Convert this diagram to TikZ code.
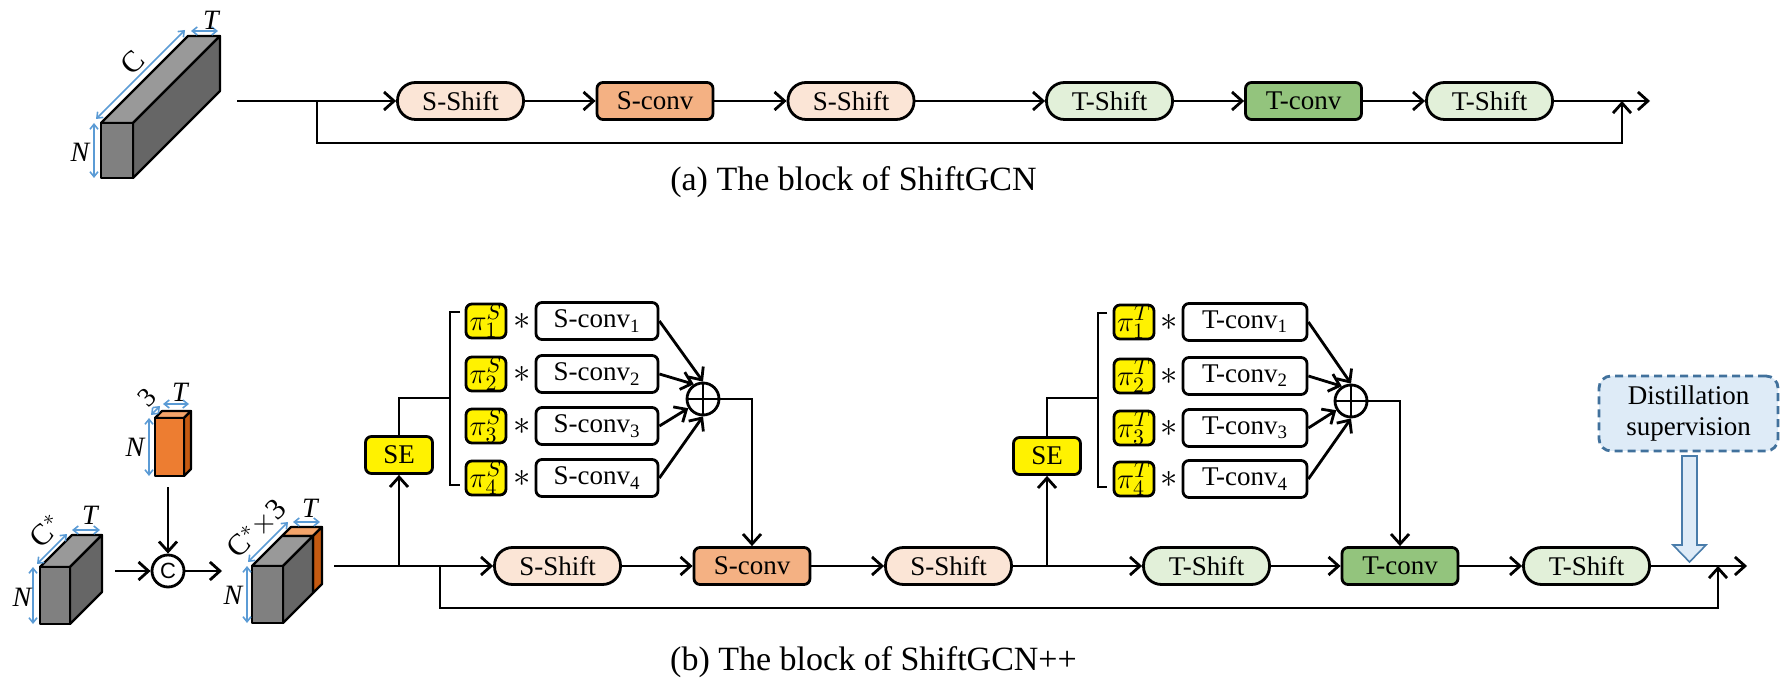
\documentclass[tikz,border=0pt]{standalone}
\usepackage{fontspec}
\setmainfont{Liberation Serif}
\newfontfamily\sansf{Liberation Sans}
\usetikzlibrary{arrows.meta}
\definecolor{sshift}{HTML}{FBE5D6}
\definecolor{sconv}{HTML}{F4B183}
\definecolor{tshift}{HTML}{E2F0D9}
\definecolor{tconv}{HTML}{93C47D}
\definecolor{dimblue}{HTML}{5B9BD5}
\definecolor{dfill}{HTML}{DEEBF7}
\definecolor{dborder}{HTML}{41719C}
\definecolor{gfront}{HTML}{808080}
\definecolor{gtop}{HTML}{999999}
\definecolor{gside}{HTML}{666666}
\definecolor{ofront}{HTML}{ED7D31}
\definecolor{otop}{HTML}{F4A46A}
\definecolor{oside}{HTML}{C55A11}
\begin{document}
\begin{tikzpicture}[x=0.5pt,y=-0.5pt,
  nfont/.style={font=\fontsize{13.5}{15.5}\selectfont},
  base/.style={draw, line width=1.4pt, inner sep=0pt, minimum height=18.5pt, nfont},
  shiftbox/.style={base, rounded corners=9pt, minimum width=63pt},
  convbox/.style={base, rounded corners=3pt, minimum width=58pt},
  sbranch/.style={base, rounded corners=3pt, fill=white, minimum width=61pt},
  tbranch/.style={base, rounded corners=3pt, fill=white, minimum width=62pt},
  pibox/.style={base, rounded corners=3pt, fill=yellow, minimum width=20pt, minimum height=17pt, font=\fontsize{15}{16}\selectfont},
  sebox/.style={base, rounded corners=3pt, fill=yellow, minimum width=33.5pt},
  conn/.style={line width=1.4pt},
  arr/.style={conn, -{Straight Barb[length=5pt,width=9pt]}},
  dim/.style={draw=dimblue, line width=0.8pt, {Straight Barb[length=2.5pt,width=4pt]}-{Straight Barb[length=2.5pt,width=4pt]}},
  lab/.style={nfont, inner sep=0pt},
  starlab/.style={font=\fontsize{17}{17}\selectfont, inner sep=0pt},
  itlab/.style={font=\fontsize{14}{15.5}\selectfont\itshape, inner sep=0pt},
  captxt/.style={font=\fontsize{17}{20}\selectfont, inner sep=0pt, anchor=base},
  cub/.style={line width=1.1pt, line join=round},
  oplus/.style={circle, draw, line width=1.4pt, minimum size=16pt, inner sep=0pt},
]
\useasboundingbox (0,0) rectangle (1786,683);

% ================= (a) =================
\filldraw[cub, fill=gtop] (101,123) -- ++(87,-87) -- ++(32,0) -- ++(-87,87) -- cycle;
\filldraw[cub, fill=gside] (133,123) -- ++(87,-87) -- ++(0,55) -- ++(-87,87) -- cycle;
\filldraw[cub, fill=gfront] (101,123) rectangle (133,178);
\draw[dim] (94,123) -- (94,178);
\draw[dim] (96,119) -- (185,30);
\draw[dim] (191,31) -- (218,31);
\node[itlab] (aT) at (211,20) {T};
\node[lab, font=\fontsize{15}{16}\selectfont, rotate=45] (aC) at (133,63) {C};
\node[itlab] (aN) at (80,152) {N};

\node[shiftbox, fill=sshift] (as1) at (460.5,101) {S-Shift};
\node[convbox, fill=sconv] (ac) at (655,101) {S-conv};
\node[shiftbox, fill=sshift] (as2) at (851,101) {S-Shift};
\node[shiftbox, fill=tshift] (at1) at (1109.5,101) {T-Shift};
\node[convbox, fill=tconv] (atc) at (1303.5,101) {T-conv};
\node[shiftbox, fill=tshift] (at2) at (1489.5,101) {T-Shift};

\coordinate (ain) at (237,101);
\coordinate (abr) at (317,101);
\coordinate (abyp) at (1622,101);
\coordinate (aout) at (1650,101);

\draw[arr] (ain) -- (as1);
\draw[arr] (as1) -- (ac);
\draw[arr] (ac) -- (as2);
\draw[arr] (as2) -- (at1);
\draw[arr] (at1) -- (atc);
\draw[arr] (atc) -- (at2);
\draw[arr] (at2) -- (aout);
\draw[arr] (abr) -- ++(0,42) -| (abyp);

\node[captxt] (capa) at (853.5,191) {(a) The block of ShiftGCN};

% ================= (b) =================
\filldraw[cub, fill=gtop] (40,567) -- ++(32,-32) -- ++(30,0) -- ++(-32,32) -- cycle;
\filldraw[cub, fill=gside] (70,567) -- ++(32,-32) -- ++(0,57) -- ++(-32,32) -- cycle;
\filldraw[cub, fill=gfront] (40,567) rectangle (70,624);
\draw[dim] (33,567) -- (33,624);
\draw[dim] (37,564) -- (67,534);
\draw[dim] (72,530) -- (100,530);
\node[lab, font=\fontsize{15}{16}\selectfont, rotate=45] (lC) at (46,531) {C$^{*}$};
\node[itlab] (lT) at (90,515) {T};
\node[itlab] (lN) at (22,597) {N};

\filldraw[cub, fill=otop] (155,418) -- ++(7,-7) -- ++(29,0) -- ++(-7,7) -- cycle;
\filldraw[cub, fill=oside] (184,418) -- ++(7,-7) -- ++(0,58) -- ++(-7,7) -- cycle;
\filldraw[cub, fill=ofront] (155,418) rectangle (184,476);
\draw[dim] (149,418) -- (149,476);
\draw[dim] (151,415) -- (160,406);
\draw[dim] (163,404) -- (189,404);
\node[lab, rotate=45] (o3) at (147,397) {3};
\node[itlab] (oT) at (180,392) {T};
\node[itlab] (oN) at (135,447) {N};

\node[circle, draw, line width=1.4pt, minimum size=16pt, inner sep=0pt, font=\sansf\fontsize{11}{12}\selectfont] (cc) at (168,571) {C};
\coordinate (ocb) at (168,487);
\coordinate (lcr) at (115,571);
\coordinate (rcl) at (222,571);
\draw[arr] (ocb) -- (cc);
\draw[arr] (lcr) -- (cc);
\draw[arr] (cc) -- (rcl);

\filldraw[cub, fill=otop] (282,536) -- ++(9,-9) -- ++(31,0) -- ++(-9,9) -- cycle;
\filldraw[cub, fill=oside] (313,536) -- ++(9,-9) -- ++(0,57) -- ++(-9,9) -- cycle;
\filldraw[cub, fill=gtop] (252,566) -- ++(30,-30) -- ++(31,0) -- ++(-30,30) -- cycle;
\filldraw[cub, fill=gside] (283,566) -- ++(30,-30) -- ++(0,57) -- ++(-30,30) -- cycle;
\filldraw[cub, fill=gfront] (252,566) rectangle (283,623);
\draw[dim] (247,566) -- (247,623);
\draw[dim] (248,562) -- (288,522);
\draw[dim] (293,522) -- (320,522);
\node[lab, font=\fontsize{15}{16}\selectfont, rotate=45] (rC) at (257,529) {C$^{*}\times$3};
\node[itlab] (rT) at (310,508) {T};
\node[itlab] (rN) at (233,595) {N};

\node[shiftbox, fill=sshift] (bs1) at (557.5,566) {S-Shift};
\node[convbox, fill=sconv] (bc) at (752,566) {S-conv};
\node[shiftbox, fill=sshift] (bs2) at (948.5,566) {S-Shift};
\node[shiftbox, fill=tshift] (bt1) at (1206.5,566) {T-Shift};
\node[convbox, fill=tconv] (btc) at (1400,566) {T-conv};
\node[shiftbox, fill=tshift] (bt2) at (1586.5,566) {T-Shift};

\coordinate (bin) at (334,566);
\coordinate (bse1) at (399,566);
\coordinate (bbyp) at (440,566);
\coordinate (bse2) at (1047,566);
\coordinate (bend) at (1718,566);
\coordinate (bout) at (1747,566);

\draw[arr] (bin) -- (bs1);
\draw[arr] (bs1) -- (bc);
\draw[arr] (bc) -- (bs2);
\draw[arr] (bs2) -- (bt1);
\draw[arr] (bt1) -- (btc);
\draw[arr] (btc) -- (bt2);
\draw[arr] (bt2) -- (bout);
\draw[arr] (bbyp) -- ++(0,42) -| (bend);

\node[sebox] (se1) at (399,455) {SE};
\draw[arr] (bse1) -- (se1);
\coordinate (brS) at (450,398);
\draw[conn] (se1) |- (brS);
\draw[conn] (460,312) -- (450,312) -- (450,485) -- (460,485);

\node[pibox] (ps1) at (486,321) {$\pi_1^S$};
\node[pibox] (ps2) at (486,374) {$\pi_2^S$};
\node[pibox] (ps3) at (486,426) {$\pi_3^S$};
\node[pibox] (ps4) at (486,478) {$\pi_4^S$};
\node[starlab] (ss1) at (522,321) {$\ast$};
\node[starlab] (ss2) at (522,374) {$\ast$};
\node[starlab] (ss3) at (522,426) {$\ast$};
\node[starlab] (ss4) at (522,478) {$\ast$};
\node[sbranch] (sc1) at (597,321) {S-conv\textsubscript{1}};
\node[sbranch] (sc2) at (597,374) {S-conv\textsubscript{2}};
\node[sbranch] (sc3) at (597,426) {S-conv\textsubscript{3}};
\node[sbranch] (sc4) at (597,478) {S-conv\textsubscript{4}};
\node[oplus] (op1) at (703,399) {};
\draw[line width=1.4pt] (op1.north) -- (op1.south) (op1.west) -- (op1.east);
\draw[arr] (sc1.east) -- (op1.90);
\draw[arr] (sc2.east) -- (op1.122);
\draw[arr] (sc3.east) -- (op1.212);
\draw[arr] (sc4.east) -- (op1.270);
\draw[arr] (op1.east) -| (bc.north);

\node[sebox] (se2) at (1047,456) {SE};
\draw[arr] (bse2) -- (se2);
\coordinate (brT) at (1098,398);
\draw[conn] (se2) |- (brT);
\draw[conn] (1107,313) -- (1098,313) -- (1098,487) -- (1107,487);

\node[pibox] (pt1) at (1134,322) {$\pi_1^T$};
\node[pibox] (pt2) at (1134,376) {$\pi_2^T$};
\node[pibox] (pt3) at (1134,428) {$\pi_3^T$};
\node[pibox] (pt4) at (1134,479) {$\pi_4^T$};
\node[starlab] (ts1) at (1169,322) {$\ast$};
\node[starlab] (ts2) at (1169,376) {$\ast$};
\node[starlab] (ts3) at (1169,428) {$\ast$};
\node[starlab] (ts4) at (1169,479) {$\ast$};
\node[tbranch] (tc1) at (1245,322) {T-conv\textsubscript{1}};
\node[tbranch] (tc2) at (1245,376) {T-conv\textsubscript{2}};
\node[tbranch] (tc3) at (1245,428) {T-conv\textsubscript{3}};
\node[tbranch] (tc4) at (1245,479) {T-conv\textsubscript{4}};
\node[oplus] (op2) at (1351,401) {};
\draw[line width=1.4pt] (op2.north) -- (op2.south) (op2.west) -- (op2.east);
\draw[arr] (tc1.east) -- (op2.90);
\draw[arr] (tc2.east) -- (op2.122);
\draw[arr] (tc3.east) -- (op2.212);
\draw[arr] (tc4.east) -- (op2.270);
\draw[arr] (op2.east) -| (btc.north);

\node[draw=dborder, fill=dfill, line width=1.4pt, dash pattern=on 4pt off 2.5pt, rounded corners=6pt, minimum width=89.5pt, minimum height=37.5pt, inner sep=0pt, align=center, nfont] (dist) at (1688.5,413.5) {Distillation\\supervision};
\filldraw[fill=dfill, draw=dimblue!80!black, line width=0.8pt] (1682,456) -- (1697,456) -- (1697,545) -- (1706,545) -- (1689.5,562) -- (1673,545) -- (1682,545) -- cycle;

\node[captxt] (capb) at (873.5,670) {(b) The block of ShiftGCN++};
\end{tikzpicture}
\end{document}
